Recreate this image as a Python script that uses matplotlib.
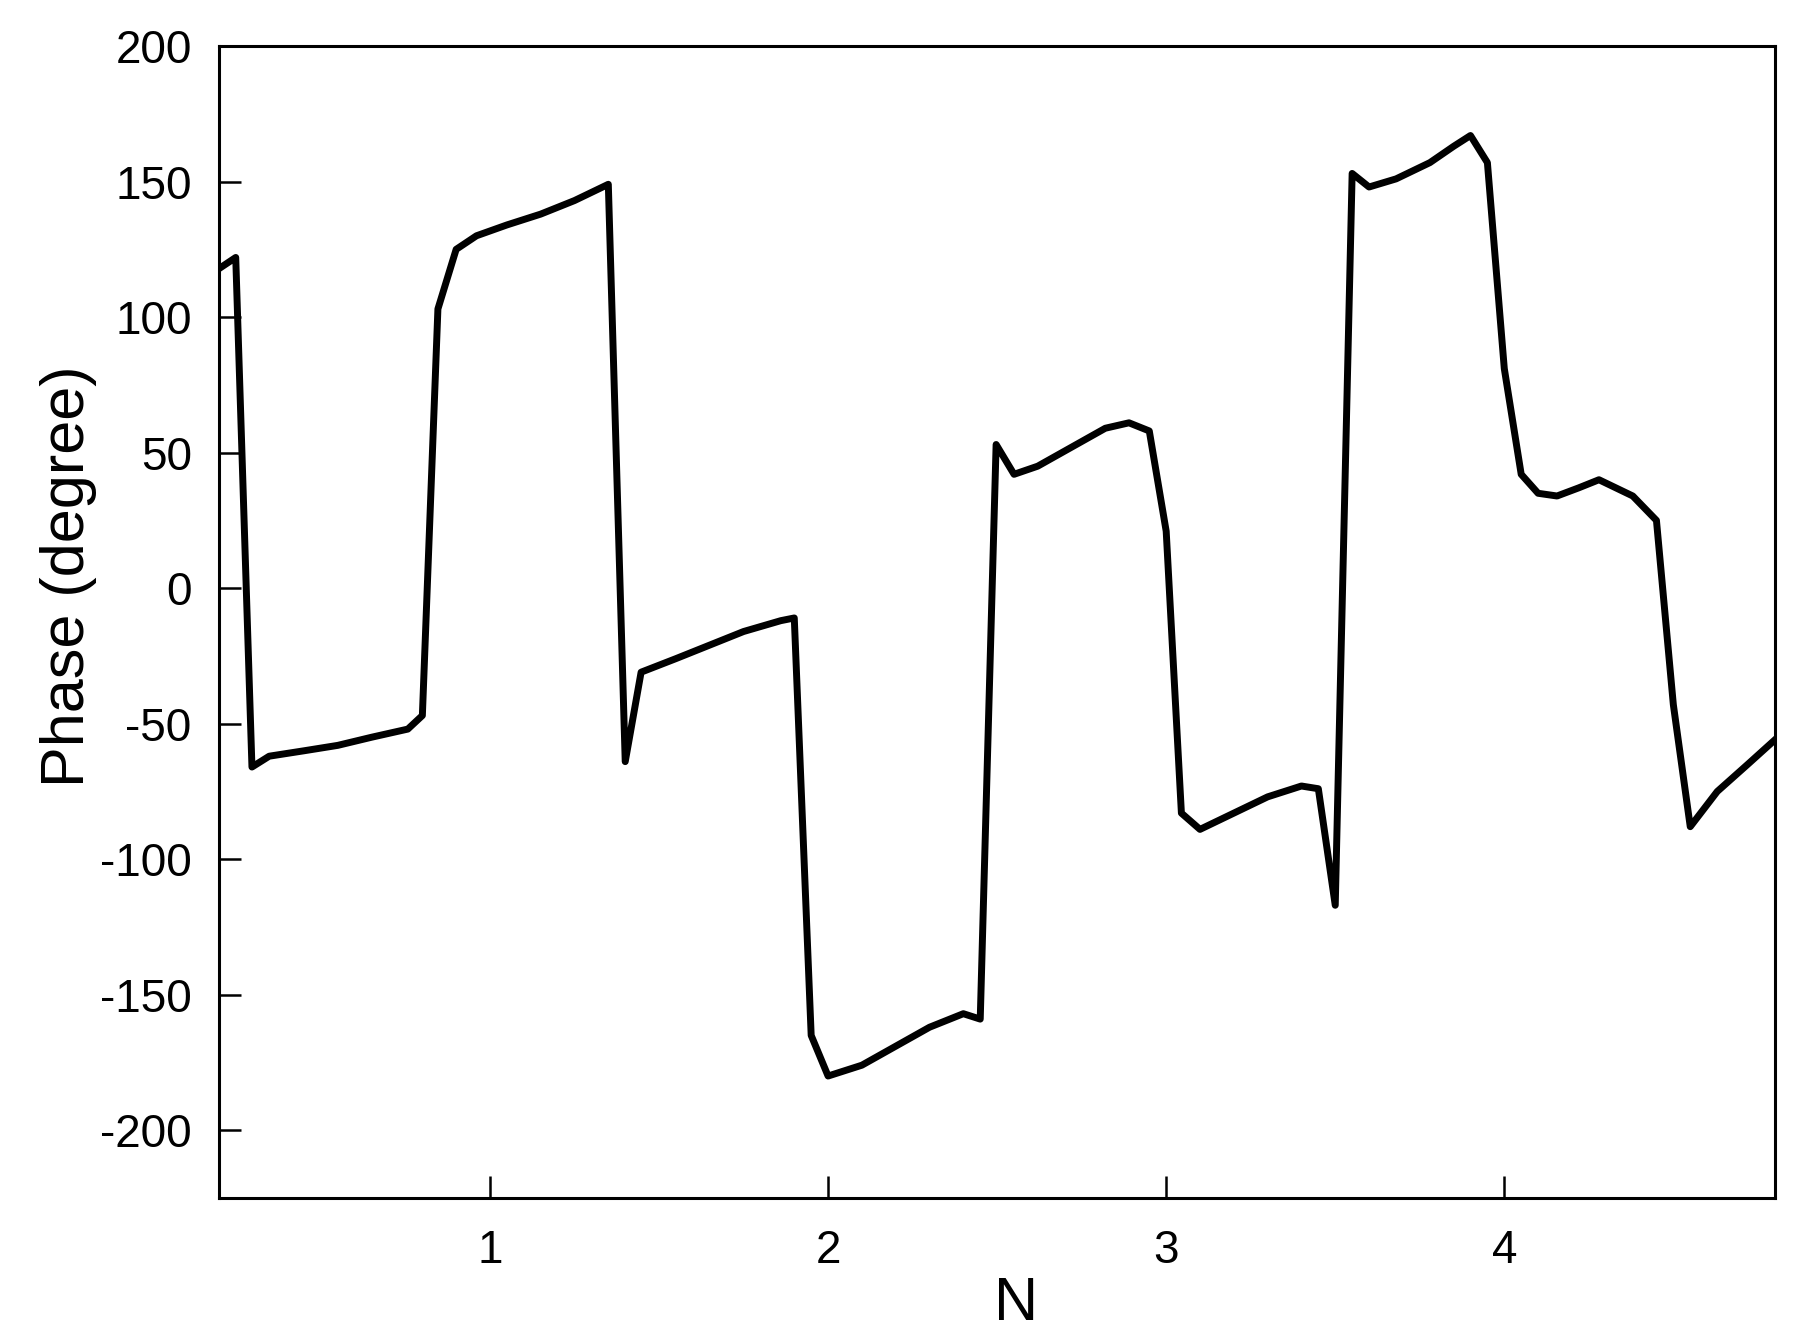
import numpy as np
import matplotlib.pyplot as plt

plt.rcParams['font.family'] = ['Liberation Sans', 'DejaVu Sans']
plt.rcParams['axes.unicode_minus'] = False

# values
n = [0.20, 0.248, 0.296, 0.347, 0.45, 0.55, 0.65, 0.757, 0.80, 0.846, 0.90, 0.96,
     1.05, 1.15, 1.25, 1.35, 1.40, 1.447, 1.55, 1.65, 1.75, 1.86, 1.90, 1.95, 2.00,
     2.10, 2.20, 2.30, 2.40, 2.45, 2.497, 2.55, 2.62, 2.72, 2.82, 2.89, 2.95, 3.00,
     3.045, 3.10, 3.20, 3.30, 3.40, 3.45, 3.50, 3.55, 3.60, 3.68, 3.78, 3.85, 3.90,
     3.95, 4.00, 4.05, 4.10, 4.156, 4.22, 4.28, 4.38, 4.45, 4.50, 4.55, 4.63, 4.72, 4.80]
phase = [118, 122, -66, -62, -60, -58, -55, -52, -47, 103, 125, 130,
         134, 138, 143, 149, -64, -31, -26, -21, -16, -12, -11, -165, -180,
         -176, -169, -162, -157, -159, 53, 42, 45, 52, 59, 61, 58, 21,
         -83, -89, -83, -77, -73, -74, -117, 153, 148, 151, 157, 163, 167,
         157, 81, 42, 35, 34, 37, 40, 34, 25, -43, -88, -75, -65, -56]

x_ticks = [1, 2, 3, 4]
y_ticks = [-200, -150, -100, -50, 0, 50, 100, 150, 200]

fig = plt.figure(figsize=(18.11, 13.39), dpi=100)
ax = fig.add_axes([0.1212, 0.1053, 0.8588, 0.8603])

ax.plot(n, phase, color='black', lw=5, solid_joinstyle='round')

ax.set_xlim(0.2, 4.8)
ax.set_ylim(-225, 200)
ax.set_xticks(x_ticks)
ax.set_yticks(y_ticks)
ax.tick_params(direction='in', length=16, width=1.8, labelsize=33, pad=20)
ax.tick_params(axis='x', pad=22)
for s in ax.spines.values():
    s.set_linewidth(2.2)

ax.set_xlabel('N', fontsize=44)
ax.set_ylabel('Phase (degree)', fontsize=44)
ax.xaxis.set_label_coords(0.512, -0.068)
ax.yaxis.set_label_coords(-0.079, 0.54)

plt.savefig('out.png', dpi=100)
